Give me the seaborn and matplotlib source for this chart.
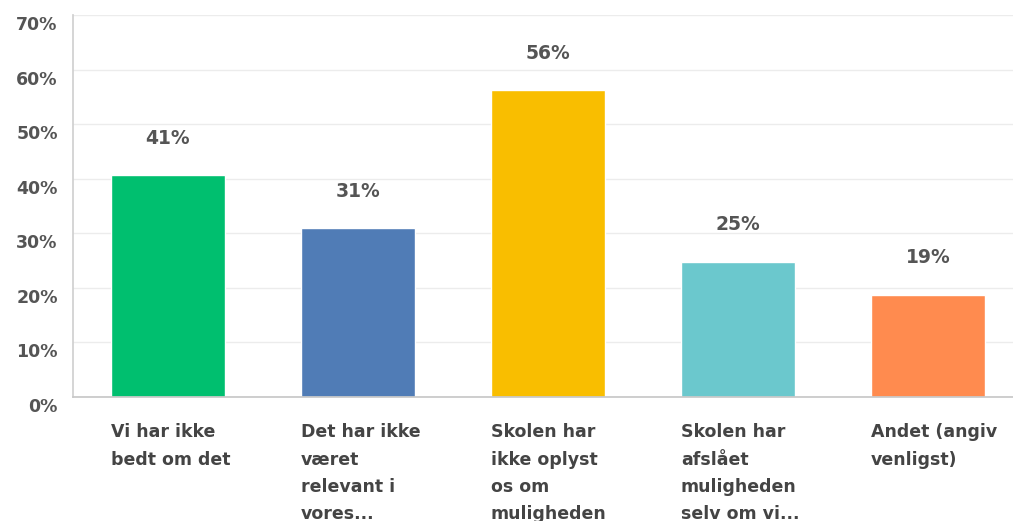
import matplotlib
matplotlib.use("Agg")
import matplotlib.pyplot as plt
import matplotlib.transforms as mtransforms
import seaborn as sns
import pandas as pd

# Data
categories = [
    "Vi har ikke\nbedt om det",
    "Det har ikke\nværet\nrelevant i\nvores...",
    "Skolen har\nikke oplyst\nos om\nmuligheden",
    "Skolen har\nafslået\nmuligheden\nselv om vi...",
    "Andet (angiv\nvenligst)",
]
values = [40.6, 30.9, 56.2, 24.7, 18.7]
value_labels = ["41%", "31%", "56%", "25%", "19%"]
colors = ["#00BF6F", "#507CB6", "#F9BE00", "#6BC8CD", "#FF8B4F"]
yticks = [0, 10, 20, 30, 40, 50, 60, 70]

df = pd.DataFrame({"cat": categories, "val": values})

sns.set_theme(style="white")
plt.rcParams["font.family"] = ["DejaVu Sans"]

fig = plt.figure(figsize=(10.13, 5.21), dpi=100)
ax = fig.add_axes([73 / 1013, 124 / 521, 950 / 1013, 382 / 521])

sns.barplot(data=df, x="cat", y="val", hue="cat", palette=colors,
            width=0.6, legend=False, ax=ax, saturation=1)

ax.set_ylim(0, 70)
ax.set_xlim(-0.5, 4.5)
ax.set_yticks(yticks)
ax.set_yticklabels([f"{t}%" for t in yticks], fontsize=12.5,
                   fontweight="bold", color="#555555")
ax.tick_params(axis="y", length=0, pad=11)
# y labels sit a little below their gridlines in the original
shift = mtransforms.ScaledTranslation(0, -0.08, fig.dpi_scale_trans)
for lab in ax.get_yticklabels():
    lab.set_transform(lab.get_transform() + shift)
ax.yaxis.grid(True, color="#ececec", linewidth=1)
ax.set_axisbelow(True)

for s in ["top", "right"]:
    ax.spines[s].set_visible(False)
ax.spines["left"].set_color("#d0d0d0")
ax.spines["bottom"].set_color("#c8c8c8")

# category labels left-aligned under bar left edge
ax.set_xticks([i - 0.3 for i in range(len(categories))])
ax.set_xticklabels(categories, ha="left", fontsize=12.5, fontweight="bold",
                   color="#444444", linespacing=1.66, va="top")
ax.tick_params(axis="x", length=0, pad=19)
ax.set_xlabel("")
ax.set_ylabel("")

for i, (v, lab) in enumerate(zip(values, value_labels)):
    ax.annotate(lab, (i, v), xytext=(0, 20), textcoords="offset points",
                ha="center", va="bottom", fontsize=13.5, fontweight="bold",
                color="#555555")

fig.savefig("out.png", dpi=100)
